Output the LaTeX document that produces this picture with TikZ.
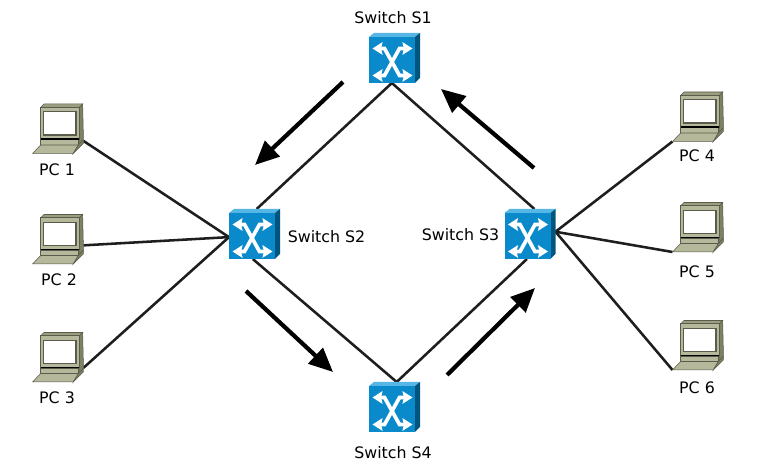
\documentclass[tikz,border=0pt]{standalone}
\usepackage{fontspec}
\setmainfont{DejaVu Sans}
\usetikzlibrary{arrows.meta}
\definecolor{switchfront}{HTML}{0A8ACB}
\definecolor{switchside}{HTML}{00557F}
\definecolor{switchtop}{HTML}{56B7E6}
\definecolor{pcfront}{HTML}{B5B89A}
\definecolor{pcside}{HTML}{7E8165}
\definecolor{pctop}{HTML}{9B9E80}
\definecolor{pcedge}{HTML}{5A5B4A}
\tikzset{
    devnode/.style={minimum width=1.02cm, minimum height=1cm, inner sep=0pt, outer sep=0pt},
    txt/.style={font=\fontsize{9}{10}\selectfont, inner sep=0pt},
    link/.style={line width=1.45pt, draw={rgb,255:red,30;green,30;blue,30}},
    flow/.style={line width=2.4pt, -{Triangle[length=0.48cm,width=0.42cm]}},
    switcharrow/.style={white, line width=2.1pt, <->, >={Stealth[length=0.2cm,width=0.25cm,inset=0.03cm]}},
    switchicon/.pic={
        \fill[switchtop] (-0.51,0.42) -- (-0.41,0.5) -- (0.51,0.5) -- (0.41,0.42) -- cycle;
        \fill[switchside] (0.41,0.42) -- (0.51,0.5) -- (0.51,-0.4) -- (0.41,-0.5) -- cycle;
        \fill[switchfront] (-0.51,-0.5) rectangle (0.41,0.42);
        \draw[switcharrow] (-0.44,0.19) -- (-0.2,0.19) -- (0.1,-0.35) -- (0.36,-0.35);
        \draw[switcharrow] (-0.44,-0.35) -- (-0.2,-0.35) -- (0.1,0.19) -- (0.36,0.19);
    },
    pcicon/.pic={
        \draw[pcedge, line width=0.3pt, fill=pctop] (-0.347,0.423) -- (-0.28,0.49) -- (0.493,0.49) -- (0.427,0.423) -- cycle;
        \draw[pcedge, line width=0.3pt, fill=pcside] (0.427,0.423) -- (0.493,0.49) -- (0.507,-0.117) -- (0.507,-0.23) -- (0.407,-0.33) -- (0.427,-0.217) -- cycle;
        \draw[pcedge, line width=0.4pt, fill=pcfront] (-0.347,-0.217) rectangle (0.427,0.423);
        \draw[pcedge, line width=0.6pt, fill=white] (-0.293,-0.13) rectangle (0.36,0.337);
        \draw[pcedge, line width=0.3pt, fill=pcfront] (-0.347,-0.33) rectangle (0.407,-0.217);
        \draw[black, line width=1pt] (-0.347,-0.21) -- (0.427,-0.21);
        \draw[pcedge, line width=0.3pt, fill=pcfront] (-0.347,-0.33) -- (-0.507,-0.497) -- (0.307,-0.497) -- (0.407,-0.33) -- cycle;
        \draw[pcedge, line width=0.3pt, fill=pcside] (0.307,-0.497) -- (0.407,-0.33) -- (0.507,-0.23) -- (0.507,-0.3) -- cycle;
    }
}
\begin{document}
\begin{tikzpicture}
    \useasboundingbox (0,0) rectangle (15.36,9.28);

    % switches
    \node[devnode] (s1) at (7.89,8.12) {};
    \node[devnode] (s2) at (5.09,4.60) {};
    \node[devnode] (s3) at (10.60,4.60) {};
    \node[devnode] (s4) at (7.89,1.14) {};

    % computers
    \node[devnode] (pc1) at (1.16,6.71) {};
    \node[devnode] (pc2) at (1.16,4.50) {};
    \node[devnode] (pc3) at (1.16,2.14) {};
    \node[devnode] (pc4) at (13.96,6.95) {};
    \node[devnode] (pc5) at (13.96,4.74) {};
    \node[devnode] (pc6) at (13.96,2.38) {};

    \draw[link] (s1.264) -- (s2.85);
    \draw[link] (s1.264) -- (s3.80);
    \draw[link] (s2.266) -- (s4.85);
    \draw[link] (s3.263) -- (s4.85);

    \draw[link] (pc1.-26) -- (s2.187);
    \draw[link] (pc2.-14) -- (s2.187);
    \draw[link] (pc3.-23) -- (s2.187);
    \draw[link] (pc4.south west) -- (s3.5);
    \draw[link] (pc5.south west) -- (s3.5);
    \draw[link] (pc6.south west) -- (s3.5);

    \foreach \n in {s1,s2,s3,s4} \pic at (\n) {switchicon};
    \foreach \n in {pc1,pc2,pc3,pc4,pc5,pc6} \pic at (\n) {pcicon};

    \node[txt] (ls1) at (7.86,8.92) {Switch S1};
    \node[txt] (ls2) at (6.53,4.54) {Switch S2};
    \node[txt] (ls3) at (9.21,4.58) {Switch S3};
    \node[txt] (ls4) at (7.86,0.22) {Switch S4};
    \node[txt] (lpc1) at (1.14,5.88) {PC 1};
    \node[txt] (lpc2) at (1.18,3.68) {PC 2};
    \node[txt] (lpc3) at (1.14,1.32) {PC 3};
    \node[txt] (lpc4) at (13.94,6.16) {PC 4};
    \node[txt] (lpc5) at (13.94,3.84) {PC 5};
    \node[txt] (lpc6) at (13.94,1.52) {PC 6};

    % direction of the ring
    \coordinate (a1) at (6.86,7.64);
    \coordinate (b1) at (5.10,5.98);
    \coordinate (a2) at (10.68,5.92);
    \coordinate (b2) at (8.82,7.50);
    \coordinate (a3) at (4.92,3.46);
    \coordinate (b3) at (6.66,1.84);
    \coordinate (a4) at (8.94,1.78);
    \coordinate (b4) at (10.70,3.52);
    \draw[flow] (a1) -- (b1);
    \draw[flow] (a2) -- (b2);
    \draw[flow] (a3) -- (b3);
    \draw[flow] (a4) -- (b4);
\end{tikzpicture}
\end{document}
